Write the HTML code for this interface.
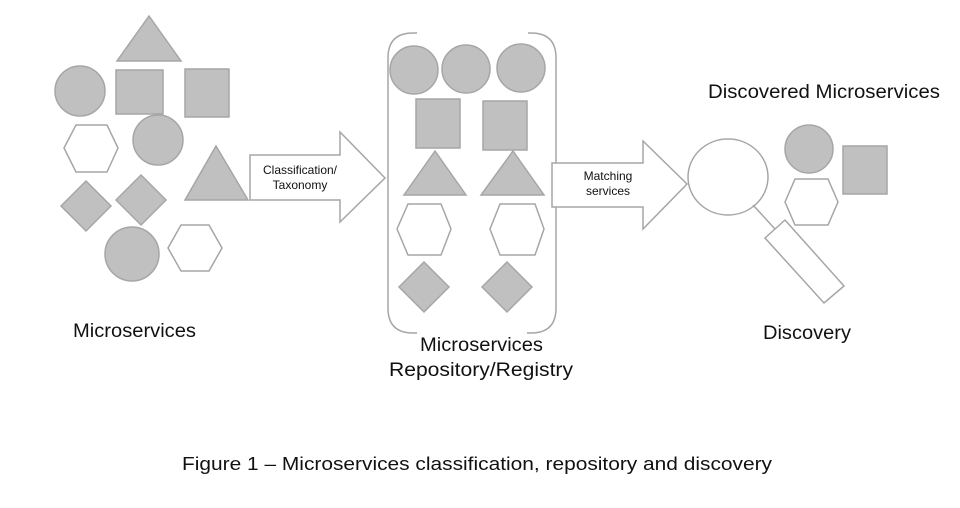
<!DOCTYPE html>
<html><head><meta charset="utf-8"><style>
html,body{margin:0;padding:0;background:#fff;}
svg{display:block;}
text{font-family:"Liberation Sans",sans-serif;fill:#111;}
</style></head><body>
<svg width="960" height="508" viewBox="0 0 960 508" xmlns="http://www.w3.org/2000/svg">
<g stroke="#a6a6a6" stroke-width="1.5" fill="#c0c0c0">
<!-- left cluster -->
<polygon points="149,16 117,61 181,61"/>
<circle cx="80" cy="91" r="25"/>
<rect x="116" y="70" width="47" height="44"/>
<rect x="185" y="69" width="44" height="48"/>
<polygon points="64,148 76,125 107,125 118,148 107,172 76,172" fill="#fff"/>
<circle cx="158" cy="140" r="25"/>
<polygon points="216,146 185,200 248,200"/>
<polygon points="86,181 111,206 86,231 61,206"/>
<polygon points="141,175 166,200 141,225 116,200"/>
<circle cx="132" cy="254" r="27"/>
<polygon points="168,248 181,225 209,225 222,248 209,271 181,271" fill="#fff"/>
<!-- arrow 1 -->
<polygon points="250,155 340,155 340,132 385,178 340,222 340,200 250,200" fill="#fff"/>
<!-- repository -->
<circle cx="414" cy="70" r="24"/>
<circle cx="466" cy="69" r="24"/>
<circle cx="521" cy="68" r="24"/>
<rect x="416" y="99" width="44" height="49"/>
<rect x="483" y="101" width="44" height="49"/>
<polygon points="435,151 404,195 466,195"/>
<polygon points="513,151 481,195 544,195"/>
<polygon points="397,229 408,204 441,204 451,229 441,255 408,255" fill="#fff"/>
<polygon points="490,229 500,204 535,204 544,229 535,255 500,255" fill="#fff"/>
<polygon points="424,262 449,287 424,312 399,287"/>
<polygon points="507,262 532,287 507,312 482,287"/>
<path d="M417,33 L413,33 Q388,33 388,58 L388,308 Q388,333 413,333 L417,333" fill="none"/>
<path d="M528,33 L531,33 Q556,33 556,58 L556,308 Q556,333 531,333 L527,333" fill="none"/>
<!-- arrow 2 -->
<polygon points="552,163 643,163 643,141 687,184 643,229 643,207 552,207" fill="#fff"/>
<!-- discovery -->
<ellipse cx="728" cy="177" rx="40" ry="38" fill="#fff"/>
<line x1="753" y1="205" x2="775" y2="229" fill="none"/>
<polygon points="765,238 785,220 844,286 824,303" fill="#fff"/>
<circle cx="809" cy="149" r="24"/>
<rect x="843" y="146" width="44" height="48"/>
<polygon points="785,202 795,179 828,179 838,202 828,225 795,225" fill="#fff"/>
</g>
<text x="300" y="174" font-size="12" text-anchor="middle">Classification/</text>
<text x="300" y="189" font-size="12" text-anchor="middle">Taxonomy</text>
<text x="608" y="180" font-size="12" text-anchor="middle">Matching</text>
<text x="608" y="195" font-size="12" text-anchor="middle">services</text>
<text x="73" y="337" font-size="19" textLength="123" lengthAdjust="spacingAndGlyphs">Microservices</text>
<text x="420" y="351" font-size="19" textLength="123" lengthAdjust="spacingAndGlyphs">Microservices</text>
<text x="389" y="376" font-size="19" textLength="184" lengthAdjust="spacingAndGlyphs">Repository/Registry</text>
<text x="708" y="98" font-size="19" textLength="232" lengthAdjust="spacingAndGlyphs">Discovered Microservices</text>
<text x="763" y="339" font-size="19" textLength="88" lengthAdjust="spacingAndGlyphs">Discovery</text>
<text x="182" y="470" font-size="18" textLength="590" lengthAdjust="spacingAndGlyphs">Figure 1 – Microservices classification, repository and discovery</text>
</svg>
</body></html>
